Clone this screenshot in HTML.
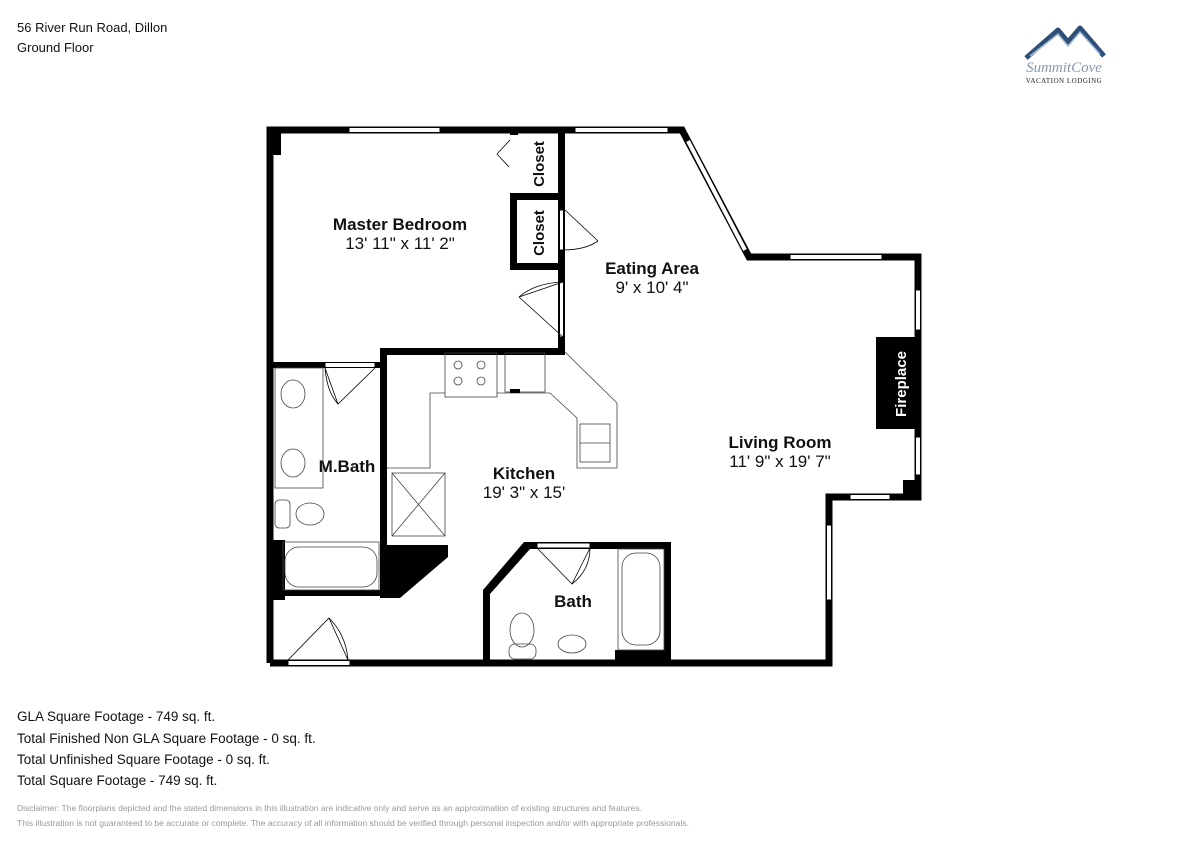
<!DOCTYPE html>
<html><head><meta charset="utf-8"><style>
html,body{margin:0;padding:0;background:#fff;}
body{width:1200px;height:849px;overflow:hidden;position:relative;font-family:"Liberation Sans",sans-serif;}
</style></head><body>
<svg width="1200" height="849" viewBox="0 0 1200 849" xmlns="http://www.w3.org/2000/svg" font-family="Liberation Sans, sans-serif">
<rect width="1200" height="849" fill="#fff"/>
<text x="17" y="32" font-size="13" fill="#111">56 River Run Road, Dillon</text>
<text x="17" y="52" font-size="13" fill="#111">Ground Floor</text>

<!-- logo -->
<g>
<path d="M1026,58 L1058,30 L1068,42 L1080,28 L1104,56" fill="none" stroke="#2e4f78" stroke-width="5" stroke-linejoin="round"/>
<path d="M1030,56 L1058,34 L1068,46 L1080,32 L1100,54" fill="none" stroke="#9fb8d4" stroke-width="1.5"/>
<text x="1064" y="72" font-size="15" font-family="Liberation Serif, serif" font-style="italic" fill="#8a9aaa" text-anchor="middle">SummitCove</text>
<text x="1064" y="83" font-size="7" font-family="Liberation Serif, serif" fill="#222" text-anchor="middle" letter-spacing="0.5">VACATION LODGING</text>
</g>

<!-- outer walls -->
<g fill="none" stroke="#000" stroke-width="7" stroke-linejoin="miter">
<polyline points="270,663 270,130 682,130 749,257 918,257 918,497 829,497 829,663 270,663" />
</g>
<rect x="267" y="127" width="14" height="28" fill="#000"/>
<rect x="267" y="540" width="18" height="60" fill="#000"/>
<rect x="903" y="480" width="18" height="20" fill="#000"/>

<!-- windows -->
<g fill="#fff" stroke="#000" stroke-width="1">
<rect x="349" y="127.5" width="91" height="5"/>
<rect x="575" y="127.5" width="93" height="5"/>
<rect x="790" y="254.5" width="92" height="5"/>
<rect x="915.5" y="290" width="5" height="40"/>
<rect x="915.5" y="437" width="5" height="38"/>
<rect x="850" y="494.5" width="40" height="5"/>
<rect x="826.5" y="525" width="5" height="75"/>
<rect x="288" y="660.5" width="62" height="5"/>
</g>
<line x1="688" y1="141" x2="745" y2="250" stroke="#fff" stroke-width="5"/>
<g stroke="#000" stroke-width="1">
<line x1="690.2" y1="139.8" x2="747.2" y2="248.8"/>
<line x1="685.8" y1="142.2" x2="742.8" y2="251.2"/>
</g>

<!-- interior walls -->
<g fill="#000">
<rect x="558" y="127" width="7" height="228"/>
<rect x="510" y="193" width="52" height="7"/>
<rect x="510" y="193" width="7" height="77"/>
<rect x="510" y="263" width="52" height="7"/>
<rect x="510" y="127" width="8" height="8"/>
<rect x="380" y="348" width="185" height="7"/>
<rect x="380" y="348" width="7" height="250"/>
<rect x="267" y="362" width="120" height="6"/>
<rect x="267" y="590" width="120" height="6"/>
<polygon points="383,545 448,545 448,557 400,598 383,598"/>
<polygon points="524,542 671,542 671,663 664,663 664,549 530,549 490,594 490,663 483,663 483,590"/>
<rect x="615" y="650" width="53" height="13"/>
<rect x="876" y="337" width="42" height="92"/>
</g>
<g fill="#fff" stroke="#000" stroke-width="1">
<rect x="559.5" y="210" width="4" height="40"/>
<rect x="559.5" y="282" width="4" height="55"/>
<rect x="325" y="362.5" width="50" height="5"/>
<rect x="537" y="543" width="53" height="5"/>
</g>
<g fill="none" stroke="#000" stroke-width="0.8">
<path d="M565,210 L598,241 M563,250 Q585,250 598,241"/>
<path d="M563,282 L519,297 M563,337 L519,297 M563,282 Q535,283 519,297"/>
<path d="M325,368 L338,404 L375,368 M325,368 Q327,392 338,404"/>
<path d="M537,548 L572,584 L590,548 M590,548 Q590,570 572,584"/>
<path d="M288,660 L329,618 L348,660 M329,618 Q346,635 348,660"/>
<path d="M497,154 L510,140 M497,154 L509,167"/>
</g>

<g fill="none" stroke="#444" stroke-width="0.8">
<polyline points="387,468 430,468 430,393 445,393"/>
<polyline points="497,393 550,393 577,418 577,468 617,468 617,403 565,352"/>
<rect x="445" y="353" width="52" height="44"/>
<circle cx="458" cy="365" r="4"/><circle cx="481" cy="365" r="4"/>
<circle cx="458" cy="381" r="4"/><circle cx="481" cy="381" r="4"/>
<rect x="505" y="353" width="40" height="39"/>
<rect x="580" y="424" width="30" height="38"/>
<line x1="580" y1="443" x2="610" y2="443"/>
<rect x="392" y="473" width="53" height="63"/>
<line x1="392" y1="473" x2="445" y2="536"/><line x1="445" y1="473" x2="392" y2="536"/>
<rect x="275" y="368" width="48" height="120"/>
<ellipse cx="293" cy="394" rx="12" ry="14"/>
<ellipse cx="293" cy="463" rx="12" ry="14"/>
<rect x="275" y="500" width="15" height="28" rx="4"/>
<ellipse cx="310" cy="514" rx="14" ry="11"/>
<rect x="283" y="542" width="96" height="48"/>
<rect x="285" y="547" width="92" height="40" rx="14"/>
<rect x="618" y="549" width="46" height="101"/>
<rect x="622" y="553" width="38" height="92" rx="14"/>
<ellipse cx="522" cy="630" rx="12" ry="17"/>
<rect x="509" y="644" width="27" height="15" rx="6"/>
<ellipse cx="572" cy="644" rx="14" ry="9"/>
</g>
<rect x="510" y="389" width="10" height="4" fill="#000"/>

<g font-size="17" text-anchor="middle" fill="#111">
<text x="400" y="230" font-weight="bold">Master Bedroom</text>
<text x="400" y="249">13' 11" x 11' 2"</text>
<text x="652" y="274" font-weight="bold">Eating Area</text>
<text x="652" y="293">9' x 10' 4"</text>
<text x="780" y="448" font-weight="bold">Living Room</text>
<text x="780" y="467">11' 9" x 19' 7"</text>
<text x="524" y="479" font-weight="bold">Kitchen</text>
<text x="524" y="498">19' 3" x 15'</text>
<text x="573" y="607" font-weight="bold">Bath</text>
<text x="347" y="472" font-weight="bold">M.Bath</text>
</g>
<g font-size="15" font-weight="bold" fill="#111" text-anchor="middle">
<text transform="translate(544,164) rotate(-90)">Closet</text>
<text transform="translate(544,233) rotate(-90)">Closet</text>
<text transform="translate(906,384) rotate(-90)" fill="#fff">Fireplace</text>
</g>

<g font-size="13.5" fill="#111">
<text x="17" y="721">GLA Square Footage - 749 sq. ft.</text>
<text x="17" y="743">Total Finished Non GLA Square Footage - 0 sq. ft.</text>
<text x="17" y="764">Total Unfinished Square Footage - 0 sq. ft.</text>
<text x="17" y="785">Total Square Footage - 749 sq. ft.</text>
</g>
<g font-size="8.5" fill="#999">
<text x="17" y="811" textLength="625" lengthAdjust="spacingAndGlyphs">Disclaimer: The floorplans depicted and the stated dimensions in this illustration are indicative only and serve as an approximation of existing structures and features.</text>
<text x="17" y="826" textLength="672" lengthAdjust="spacingAndGlyphs">This illustration is not guaranteed to be accurate or complete. The accuracy of all information should be verified through personal inspection and/or with appropriate professionals.</text>
</g>
</svg>
</body></html>
